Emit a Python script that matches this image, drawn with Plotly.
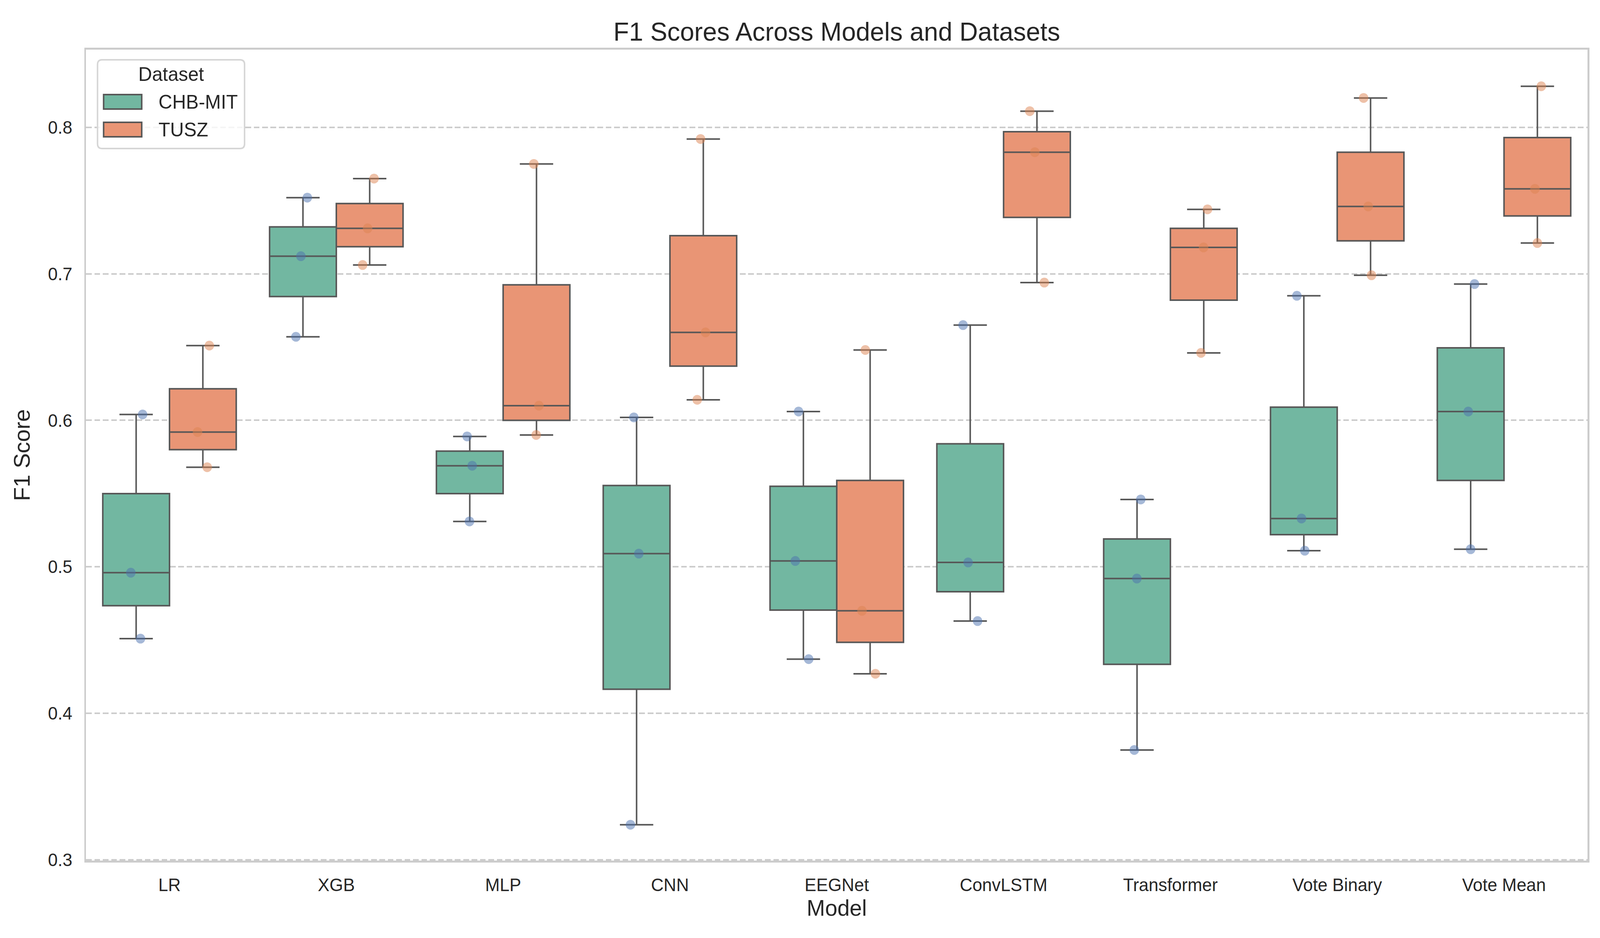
import plotly.graph_objects as go

models = ["LR", "XGB", "MLP", "CNN", "EEGNet", "ConvLSTM", "Transformer", "Vote Binary", "Vote Mean"]
datasets = ["CHB-MIT", "TUSZ"]

# three F1 scores per model and dataset
chb_mit = [
    [0.451, 0.496, 0.604],
    [0.657, 0.712, 0.752],
    [0.531, 0.569, 0.589],
    [0.324, 0.509, 0.602],
    [0.437, 0.504, 0.606],
    [0.463, 0.503, 0.665],
    [0.375, 0.492, 0.546],
    [0.511, 0.533, 0.685],
    [0.512, 0.606, 0.693],
]
tusz = [
    [0.568, 0.592, 0.651],
    [0.706, 0.731, 0.765],
    [0.590, 0.610, 0.775],
    [0.614, 0.660, 0.792],
    [0.427, 0.470, 0.648],
    [0.694, 0.783, 0.811],
    [0.646, 0.718, 0.744],
    [0.699, 0.746, 0.820],
    [0.721, 0.758, 0.828],
]
y_ticks = [0.3, 0.4, 0.5, 0.6, 0.7, 0.8]

W, H = 4200, 2400
ML, MR, MT, MB = 226, 33, 127, 198
PW, PH = W - ML - MR, H - MT - MB

FONT = "Liberation Sans, Arial, sans-serif"
TXT = "#262626"
EDGE = "#575757"
box_fill = {"CHB-MIT": "#72b7a1", "TUSZ": "#e99575"}
pt_color = {"CHB-MIT": "rgba(76,114,176,0.5)", "TUSZ": "rgba(221,132,82,0.5)"}
series = {"CHB-MIT": chb_mit, "TUSZ": tusz}


def px_x(px):
    return (px - ML) / PW


def px_y(py):
    return (H - MB - py) / PH


def rounded_rect_path(x0, y0, x1, y1, r):
    """SVG path (paper coords) for a rectangle given in figure pixels with rounded corners."""
    X = px_x
    Y = px_y
    return (
        f"M {X(x0 + r)},{Y(y0)} L {X(x1 - r)},{Y(y0)} Q {X(x1)},{Y(y0)} {X(x1)},{Y(y0 + r)} "
        f"L {X(x1)},{Y(y1 - r)} Q {X(x1)},{Y(y1)} {X(x1 - r)},{Y(y1)} "
        f"L {X(x0 + r)},{Y(y1)} Q {X(x0)},{Y(y1)} {X(x0)},{Y(y1 - r)} "
        f"L {X(x0)},{Y(y0 + r)} Q {X(x0)},{Y(y0)} {X(x0 + r)},{Y(y0)} Z"
    )


fig = go.Figure()
for ds in datasets:
    xs, ys = [], []
    for m, vals in zip(models, series[ds]):
        for v in vals:
            xs.append(m)
            ys.append(v)
    fig.add_trace(go.Box(
        x=xs, y=ys, name=ds,
        fillcolor=box_fill[ds],
        line=dict(color=EDGE, width=4),
        whiskerwidth=0.5,
        boxpoints="all", jitter=0.25, pointpos=0,
        marker=dict(color=pt_color[ds], size=25, line=dict(width=0)),
        quartilemethod="inclusive",
        hoverinfo="y",
        showlegend=False,
    ))

# legend drawn as layout decoration (frame, swatches, labels)
shapes = [
    dict(type="path", xref="paper", yref="paper",
         path=rounded_rect_path(256, 153, 642, 380, 12),
         line=dict(color="#d6d6d6", width=4), fillcolor="rgba(255,255,255,0.8)", layer="above"),
]
annotations = [
    dict(text="Dataset", xref="paper", yref="paper", x=px_x(449), y=px_y(190),
         xanchor="center", yanchor="middle", showarrow=False, font=dict(size=50, color=TXT)),
]
for i, ds in enumerate(datasets):
    top = 242 + i * 71
    shapes.append(dict(type="rect", xref="paper", yref="paper",
                       x0=px_x(272), x1=px_x(372), y0=px_y(top + 37), y1=px_y(top),
                       line=dict(color=EDGE, width=4), fillcolor=box_fill[ds], layer="above"))
    annotations.append(dict(text=ds, xref="paper", yref="paper", x=px_x(414), y=px_y(top + 19),
                            xanchor="left", yanchor="middle", showarrow=False,
                            font=dict(size=50, color=TXT)))

fig.update_layout(
    width=W, height=H,
    boxmode="group", boxgap=0.2, boxgroupgap=0,
    paper_bgcolor="white", plot_bgcolor="white",
    margin=dict(l=ML, r=MR, t=MT, b=MB),
    font=dict(family=FONT, color=TXT, size=46),
    title=dict(text="F1 Scores Across Models and Datasets", x=0.5, xanchor="center",
               xref="paper", y=1 - 81 / H, yanchor="middle", font=dict(size=67, color=TXT)),
    showlegend=False,
    shapes=shapes,
    annotations=annotations,
)
fig.update_xaxes(
    categoryorder="array", categoryarray=models,
    showgrid=False, showline=True, linecolor="#cccccc", linewidth=5, mirror=True,
    ticks="", tickfont=dict(size=46, color=TXT), ticklabelstandoff=18,
    title=dict(text="Model", font=dict(size=58, color=TXT), standoff=14),
    zeroline=False,
)
fig.update_yaxes(
    range=[0.2995, 0.853], tickvals=y_ticks, ticktext=[f"{t:.1f}" for t in y_ticks],
    showgrid=True, gridcolor="#cccccc", gridwidth=4, griddash="15px,7px",
    showline=True, linecolor="#cccccc", linewidth=5, mirror=True,
    ticks="", tickfont=dict(size=46, color=TXT), ticklabelstandoff=22,
    title=dict(text="F1 Score", font=dict(size=58, color=TXT), standoff=30),
    zeroline=False,
)

# fit the fixed-size figure exactly into the browser viewport
fit_js = """
document.body.style.margin = '0';
document.documentElement.style.overflow = 'hidden';
document.body.style.overflow = 'hidden';
var gd = document.getElementById('{plot_id}');
var sx = window.innerWidth / %d, sy = window.innerHeight / %d;
if (sx > 0 && sy > 0 && (Math.abs(sx - 1) > 0.001 || Math.abs(sy - 1) > 0.001)) {
    gd.style.transformOrigin = '0 0';
    gd.style.transform = 'scale(' + sx + ',' + sy + ')';
}
""" % (W, H)

fig.write_html("out.html", config={"displayModeBar": False}, post_script=fit_js)
